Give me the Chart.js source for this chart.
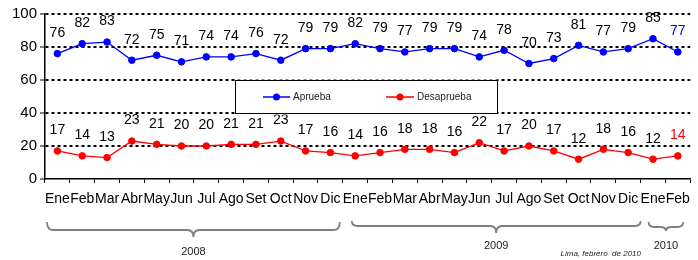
<!DOCTYPE html>
<html lang="es">
<head>
  <meta charset="UTF-8">
  <title>Aprueba / Desaprueba</title>
  <script src="https://cdn.jsdelivr.net/npm/chart.js@4.4.0/dist/chart.umd.min.js"></script>
  <style>
    html, body { margin: 0; padding: 0; background: #fff; }
    #chart { display: block; }
  </style>
</head>
<body>
  <canvas id="chart" width="698" height="260"></canvas>

  <script>
    // Month labels, Ene 2008 .. Feb 2010
    const months = ['Ene','Feb','Mar','Abr','May','Jun','Jul','Ago','Set','Oct','Nov','Dic',
                    'Ene','Feb','Mar','Abr','May','Jun','Jul','Ago','Set','Oct','Nov','Dic',
                    'Ene','Feb'];
    const aprueba    = [76,82,83,72,75,71,74,74,76,72,79,79, 82,79,77,79,79,74,78,70,73,81,77,79, 85,77];
    const desaprueba = [17,14,13,23,21,20,20,21,21,23,17,16, 14,16,18,18,16,22,17,20,17,12,18,16, 12,14];
    const years      = ['2008', '2009', '2010'];
    const monthsPerYear = [12, 12, 2];
    const yTicks     = [0, 20, 40, 60, 80, 100];
    const sourceNote = 'Lima, febrero  de 2010';

    const BLUE = '#0000FF';
    const RED = '#FF0000';
    const FONT = '"Liberation Sans", Arial, sans-serif';

    // value labels above each point; last one of each series in the series colour
    const valueLabels = {
      id: 'valueLabels',
      afterDatasetsDraw(chart) {
        const ctx = chart.ctx;
        ctx.save();
        ctx.font = '14px ' + FONT;
        ctx.textAlign = 'center';
        ctx.textBaseline = 'middle';
        chart.data.datasets.forEach((ds, i) => {
          const meta = chart.getDatasetMeta(i);
          meta.data.forEach((pt, j) => {
            ctx.fillStyle = j === ds.data.length - 1 ? ds.borderColor : '#000';
            ctx.fillText(String(ds.data[j]), pt.x, pt.y - 20.5);
          });
        });
        ctx.restore();
      }
    };

    // legend box sitting between the 40 and 60 gridlines
    const boxLegend = {
      id: 'boxLegend',
      afterDatasetsDraw(chart) {
        const ctx = chart.ctx;
        const y = chart.scales.y;
        const top = Math.round(y.getPixelForValue(60)) + 0.5;
        const bottom = Math.round(y.getPixelForValue(40)) + 0.5;
        const left = 235.5, right = 497.5;
        ctx.save();
        ctx.fillStyle = '#fff';
        ctx.fillRect(left, top - 1, right - left, bottom - top + 2);
        ctx.strokeStyle = '#000';
        ctx.lineWidth = 1;
        ctx.strokeRect(left, top, right - left, bottom - top);
        const mid = (top + bottom) / 2;
        const entries = [
          { ds: chart.data.datasets[0], x0: 263, x1: 290 },
          { ds: chart.data.datasets[1], x0: 386, x1: 414 }
        ];
        ctx.font = '10px ' + FONT;
        ctx.textBaseline = 'middle';
        entries.forEach(e => {
          ctx.strokeStyle = e.ds.borderColor;
          ctx.lineWidth = 1.5;
          ctx.beginPath();
          ctx.moveTo(e.x0, mid);
          ctx.lineTo(e.x1, mid);
          ctx.stroke();
          ctx.fillStyle = e.ds.borderColor;
          ctx.beginPath();
          ctx.arc((e.x0 + e.x1) / 2, mid, 3.5, 0, Math.PI * 2);
          ctx.fill();
          ctx.fillStyle = '#222';
          ctx.fillText(e.ds.label, e.x1 + 3, mid);
        });
        ctx.restore();
      }
    };

    // curly braces grouping months by year, plus the source note
    const yearBraces = {
      id: 'yearBraces',
      afterDraw(chart) {
        const ctx = chart.ctx;
        const x = chart.scales.x;
        const half = (x.getPixelForValue(1) - x.getPixelForValue(0)) / 2;
        const shapes = [
          { inL: 2, inR: 3, top: 222, flat: 230, tip: 237, textY: 252 },
          { inL: 9, inR: 0, top: 221, flat: 226, tip: 233, textY: 246 },
          { inL: 8, inR: 7, top: 222, flat: 227, tip: 231, textY: 246 }
        ];
        let start = 0;
        ctx.save();
        ctx.strokeStyle = '#7f7f7f';
        ctx.lineWidth = 1.8;
        years.forEach((yr, i) => {
          const end = start + monthsPerYear[i] - 1;
          const s = shapes[i];
          const l = x.getPixelForValue(start) - half + s.inL;
          const r = x.getPixelForValue(end) + half - s.inR;
          const m = (l + r) / 2;
          const c = Math.min(6, (r - l) / 6);
          ctx.beginPath();
          ctx.moveTo(l, s.top);
          ctx.quadraticCurveTo(l, s.flat, l + c, s.flat);
          ctx.lineTo(m - c, s.flat);
          ctx.quadraticCurveTo(m, s.flat, m, s.tip);
          ctx.quadraticCurveTo(m, s.flat, m + c, s.flat);
          ctx.lineTo(r - c, s.flat);
          ctx.quadraticCurveTo(r, s.flat, r, s.top);
          ctx.stroke();
          ctx.fillStyle = '#222';
          ctx.font = '11px ' + FONT;
          ctx.textAlign = 'center';
          ctx.textBaseline = 'middle';
          ctx.fillText(yr, m, s.textY);
          start = end + 1;
        });
        ctx.font = 'italic 8px ' + FONT;
        ctx.textAlign = 'right';
        ctx.fillStyle = '#222';
        ctx.fillText(sourceNote, 641, 254);
        ctx.restore();
      }
    };

    new Chart(document.getElementById('chart'), {
      type: 'line',
      data: {
        labels: months,
        datasets: [
          {
            label: 'Aprueba',
            data: aprueba,
            borderColor: BLUE,
            backgroundColor: BLUE,
            borderWidth: 1.3,
            pointRadius: 3.3,
            pointBorderWidth: 1,
            tension: 0
          },
          {
            label: 'Desaprueba',
            data: desaprueba,
            borderColor: RED,
            backgroundColor: RED,
            borderWidth: 1.3,
            pointRadius: 3.3,
            pointBorderWidth: 1,
            tension: 0
          }
        ]
      },
      options: {
        responsive: false,
        animation: false,
        devicePixelRatio: 1,
        layout: { padding: { top: 14, right: 6, left: 0, bottom: 0 } },
        plugins: {
          legend: { display: false },
          tooltip: { enabled: false }
        },
        scales: {
          x: {
            offset: true,
            afterFit(scale) { scale.height = 81; },
            border: { display: true, color: '#000', width: 1.5 },
            grid: {
              offset: true,
              drawOnChartArea: false,
              drawTicks: true,
              tickLength: 4,
              tickColor: '#000',
              lineWidth: 1
            },
            ticks: {
              autoSkip: false,
              maxRotation: 0,
              minRotation: 0,
              padding: 8,
              color: '#000',
              font: { family: FONT, size: 14 }
            }
          },
          y: {
            min: 0,
            max: 100,
            afterFit(scale) { scale.width = 45; },
            afterBuildTicks(scale) { scale.ticks = yTicks.map(v => ({ value: v })); },
            border: { display: true, color: '#000', width: 1.5, dash: [3, 3] },
            grid: {
              color: ctx => (ctx.tick && ctx.tick.value === 0 ? 'rgba(0,0,0,0)' : '#000'),
              lineWidth: 2,
              drawTicks: true,
              tickLength: 5,
              tickColor: '#000',
              tickWidth: 1,
              tickBorderDash: []
            },
            ticks: {
              padding: 3,
              color: '#000',
              font: { family: FONT, size: 15 }
            }
          }
        }
      },
      plugins: [valueLabels, boxLegend, yearBraces]
    });
  </script>
</body>
</html>
